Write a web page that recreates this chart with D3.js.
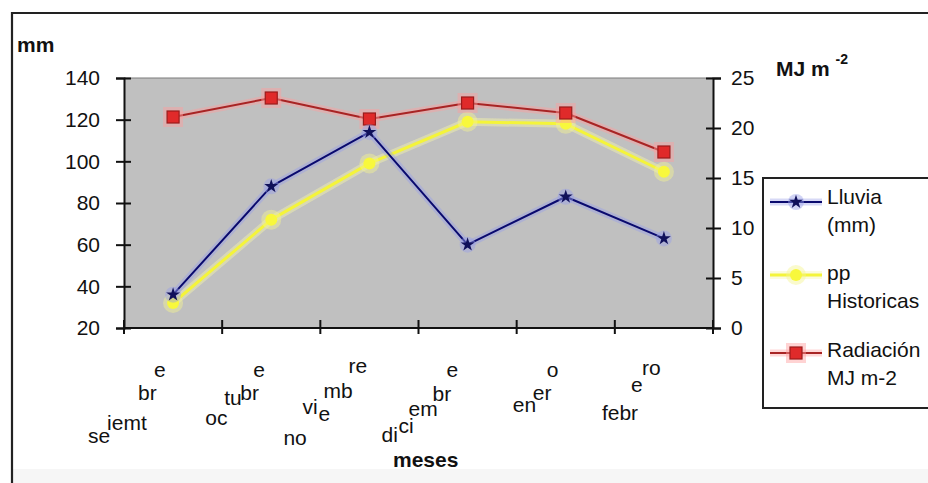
<!DOCTYPE html>
<html>
<head>
<meta charset="utf-8">
<script src="https://cdn.jsdelivr.net/npm/d3@7"></script>
<style>
  html, body { margin: 0; padding: 0; background: #ffffff; }
  svg { display: block; font-family: "Liberation Sans", Arial, sans-serif; }
</style>
</head>
<body>
<svg id="chart" width="928" height="483"></svg>
<script>
// Monthly rainfall, historical rainfall and radiation, Sep–Feb
const months = ["septiembre", "octubre", "noviembre", "diciembre", "enero", "febrero"];
const lluvia = [36, 88, 114, 60, 83, 63];          // mm
const ppHistoricas = [32, 72, 99, 119, 118, 95];   // mm
const radiacion = [21.1, 23.0, 20.9, 22.5, 21.5, 17.6]; // MJ m-2
const mmTicks = [20, 40, 60, 80, 100, 120, 140];
const mjTicks = [0, 5, 10, 15, 20, 25];
const seriesNames = ["Lluvia (mm)", "pp Historicas", "Radiación MJ m-2"];

// Broken-up month captions under the axis: [piece, dx from band centre, baseline y]
const labelPieces = [
  [["e", -19, 377], ["br", -35, 400], ["iemt", -66, 430], ["se", -85, 443]],
  [["e", -18, 377], ["br", -31, 400], ["tu", -47, 405], ["oc", -66, 425]],
  [["re", -21, 373], ["mb", -46, 398], ["vi", -67, 414], ["e", -51, 421], ["no", -86, 445]],
  [["e", -21, 377], ["br", -35, 401], ["em", -59, 416], ["di", -86, 442], ["ci", -69, 433]],
  [["o", -19, 377], ["er", -33, 400], ["en", -53, 412]],
  [["ro", -22, 375], ["e", -33, 392], ["febr", -62, 420]]
];

const svg = d3.select("#chart");
const W = 928, H = 483;
const plot = { left: 124, right: 713, top: 78, bottom: 328 };

// page background and frame
svg.append("rect").attr("x", 0).attr("y", 0).attr("width", W).attr("height", H).attr("fill", "#ffffff");
svg.append("rect").attr("x", 13).attr("y", 469).attr("width", W).attr("height", 20).attr("fill", "#f6f6f6");
svg.append("path")
  .attr("d", `M12,${H + 2} L12,13 L${W + 2},13`)
  .attr("fill", "none").attr("stroke", "#222").attr("stroke-width", 2.2);

// scales
const x = d3.scaleBand().domain(months).range([plot.left, plot.right]);
const yL = d3.scaleLinear().domain([20, 140]).range([plot.bottom, plot.top]);
const yR = d3.scaleLinear().domain([0, 25]).range([plot.bottom, plot.top]);
const cx = m => x(m) + x.bandwidth() / 2;

// plot area
svg.append("rect")
  .attr("x", plot.left).attr("y", plot.top)
  .attr("width", plot.right - plot.left).attr("height", plot.bottom - plot.top)
  .attr("fill", "#c0c0c0");
svg.append("line")
  .attr("x1", plot.left).attr("x2", plot.right).attr("y1", plot.top).attr("y2", plot.top)
  .attr("stroke", "#7a7a7a").attr("stroke-width", 1);

// axes
const fontSize = 21;
const leftAxis = svg.append("g").attr("transform", `translate(${plot.left},0)`)
  .call(d3.axisLeft(yL).tickValues(mmTicks).tickSize(8).tickPadding(16));
const rightAxis = svg.append("g").attr("transform", `translate(${plot.right},0)`)
  .call(d3.axisRight(yR).tickValues(mjTicks).tickSize(8).tickPadding(10));
[leftAxis, rightAxis].forEach(g => {
  g.select(".domain").attr("stroke", "#111").attr("stroke-width", 2);
  g.selectAll(".tick line").attr("stroke", "#111").attr("stroke-width", 2);
  g.selectAll(".tick text").attr("fill", "#111").style("font-size", fontSize + "px")
    .style("font-family", "'Liberation Sans', Arial, sans-serif");
});
// ticks crossing the axis line
leftAxis.selectAll(".tick line").attr("x1", 7);
rightAxis.selectAll(".tick line").attr("x1", -7);

// category axis with ticks at band boundaries
const bounds = months.map(m => x(m)).concat([plot.right]);
svg.append("line")
  .attr("x1", plot.left).attr("x2", plot.right).attr("y1", plot.bottom).attr("y2", plot.bottom)
  .attr("stroke", "#111").attr("stroke-width", 2);
svg.append("g").selectAll("line").data(bounds).join("line")
  .attr("x1", d => d).attr("x2", d => d)
  .attr("y1", plot.bottom - 8).attr("y2", plot.bottom + 6)
  .attr("stroke", "#111").attr("stroke-width", 2);

// month captions
const capG = svg.append("g").style("font-size", fontSize + "px").attr("fill", "#111");
months.forEach((m, i) => {
  labelPieces[i].forEach(([t, dx, by]) => {
    capG.append("text").attr("x", cx(m) + dx).attr("y", by).text(t);
  });
});

// axis titles
svg.append("text").attr("x", 17).attr("y", 52).attr("font-weight", "bold")
  .style("font-size", fontSize + "px").attr("fill", "#111").text("mm");
const mj = svg.append("text").attr("x", 776).attr("y", 76).attr("font-weight", "bold")
  .style("font-size", fontSize + "px").attr("fill", "#111");
mj.append("tspan").text("MJ m ");
mj.append("tspan").attr("dy", -12).style("font-size", "14px").text("-2");
svg.append("text").attr("x", 393).attr("y", 467).attr("font-weight", "bold")
  .style("font-size", fontSize + "px").attr("fill", "#111").text("meses");

// series
const series = [
  { name: seriesNames[0], values: lluvia, y: yL, color: "#0a0a6e", halo: "#9aa0e8", width: 2, symbol: "star" },
  { name: seriesNames[1], values: ppHistoricas, y: yL, color: "#f4f43a", halo: "#f6f6a8", width: 3, symbol: "circle" },
  { name: seriesNames[2], values: radiacion, y: yR, color: "#a82424", halo: "#ff9e9e", width: 2, symbol: "square" }
];

const drawOrder = [1, 2, 0];
drawOrder.forEach(si => {
  const s = series[si];
  const pts = s.values.map((v, i) => [cx(months[i]), s.y(v)]);
  const line = d3.line();
  svg.append("path").attr("d", line(pts)).attr("fill", "none")
    .attr("stroke", s.halo).attr("stroke-width", s.width + 5).attr("stroke-opacity", 0.45)
    .attr("stroke-linejoin", "round");
  svg.append("path").attr("d", line(pts)).attr("fill", "none")
    .attr("stroke", s.color).attr("stroke-width", s.width).attr("stroke-linejoin", "round");
  const g = svg.append("g");
  pts.forEach(p => drawMarker(g, s, p[0], p[1]));
});

function drawMarker(g, s, px, py) {
  if (s.symbol === "star") {
    g.append("circle").attr("cx", px).attr("cy", py).attr("r", 8)
      .attr("fill", s.halo).attr("opacity", 0.45);
    g.append("path").attr("d", d3.symbol(d3.symbolStar, 60)())
      .attr("transform", `translate(${px},${py})`).attr("fill", "#10105a");
  } else if (s.symbol === "circle") {
    g.append("circle").attr("cx", px).attr("cy", py).attr("r", 10)
      .attr("fill", "#f4f490").attr("opacity", 0.45);
    g.append("circle").attr("cx", px).attr("cy", py).attr("r", 6).attr("fill", "#f8f83c");
  } else {
    g.append("rect").attr("x", px - 10).attr("y", py - 10).attr("width", 20).attr("height", 20)
      .attr("fill", s.halo).attr("opacity", 0.45);
    g.append("rect").attr("x", px - 6).attr("y", py - 6).attr("width", 12).attr("height", 12)
      .attr("fill", "#e02a2a").attr("stroke", "#9a1c1c").attr("stroke-width", 1.2);
  }
}

// legend
const legend = svg.append("g");
legend.append("path").attr("d", `M${W + 2},178 L763,178 L763,408 L${W + 2},408`)
  .attr("fill", "#ffffff").attr("stroke", "#222").attr("stroke-width", 2);
const legendRows = [
  { s: series[0], y: 202, lines: [["Lluvia", 204], ["(mm)", 232]] },
  { s: series[1], y: 275, lines: [["pp", 280], ["Historicas", 308]] },
  { s: series[2], y: 353, lines: [["Radiación", 357], ["MJ m-2", 385]] }
];
legendRows.forEach(r => {
  legend.append("line").attr("x1", 770).attr("x2", 822).attr("y1", r.y).attr("y2", r.y)
    .attr("stroke", r.s.halo).attr("stroke-width", r.s.width + 5).attr("stroke-opacity", 0.4);
  legend.append("line").attr("x1", 770).attr("x2", 822).attr("y1", r.y).attr("y2", r.y)
    .attr("stroke", r.s.color).attr("stroke-width", r.s.width);
  drawMarker(legend, r.s, 796, r.y);
  r.lines.forEach(([t, by]) => {
    legend.append("text").attr("x", 827).attr("y", by).style("font-size", fontSize + "px")
      .attr("fill", "#111").text(t);
  });
});
</script>
</body>
</html>
